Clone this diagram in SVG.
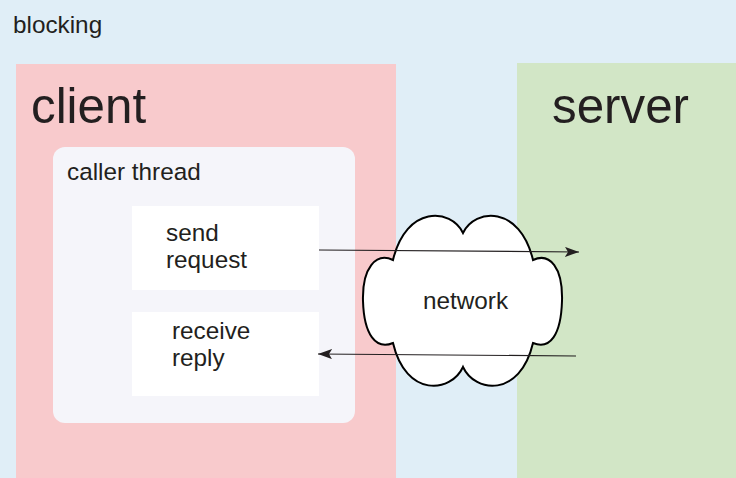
<svg xmlns="http://www.w3.org/2000/svg" width="736" height="478" viewBox="0 0 736 478">
  <style>
    text { font-family: "Liberation Sans", Arial, sans-serif; fill: #231f20; }
    .t { font-size: 24.3px; }
    .big { font-size: 49.3px; }
    .box { fill: #ffffff; }
    .conn { stroke: #231f20; stroke-width: 1.2; fill: none; }
  </style>
  <defs>
    <marker id="arrow" viewBox="0 0 14 10" refX="14" refY="5" markerWidth="14" markerHeight="10" markerUnits="userSpaceOnUse" orient="auto">
      <path d="M0,0 L14,5 L0,10 L3,5 Z" fill="#231f20"/>
    </marker>
  </defs>

  <!-- page background -->
  <rect x="0" y="0" width="736" height="478" fill="#e0eef7"/>
  <text class="t" x="13" y="33">blocking</text>

  <g id="client">
    <rect x="16" y="64" width="380" height="414" fill="#f8cacc"/>
    <text class="big" x="31" y="123">client</text>
  </g>

  <g id="server">
    <rect x="517" y="63" width="219" height="415" fill="#d2e6c6"/>
    <text class="big" x="552" y="123">server</text>
  </g>

  <g id="caller-thread">
    <rect x="53" y="147" width="302" height="276" rx="12" ry="12" fill="#f5f5fa"/>
    <text class="t" x="67" y="180">caller thread</text>
  </g>

  <g id="send-request">
    <rect class="box" x="132" y="206" width="187" height="84"/>
    <text class="t" x="166" y="241">send</text>
    <text class="t" x="166" y="268">request</text>
  </g>

  <g id="receive-reply">
    <rect class="box" x="132" y="312" width="187" height="84"/>
    <text class="t" x="172" y="339">receive</text>
    <text class="t" x="172" y="366">reply</text>
  </g>

  <g id="network">
    <!-- cloud: two lobes on top, two below, one on each side -->
    <path d="M463,233 C475,208 520,205 533,260 C550,252 563,268 562,301 C561,335 550,350 533,343 C520,398 475,393 463,367 C451,393 406,398 393,343 C376,350 364,335 363,301 C362,268 376,252 393,260 C406,205 451,208 463,233 Z" fill="#ffffff" stroke="#000000" stroke-width="2"/>
    <text class="t" x="423" y="309">network</text>
  </g>

  <g id="connectors">
    <line class="conn" x1="319" y1="250" x2="579" y2="252" marker-end="url(#arrow)"/>
    <line class="conn" x1="576" y1="356" x2="318" y2="354" marker-end="url(#arrow)"/>
  </g>
</svg>
